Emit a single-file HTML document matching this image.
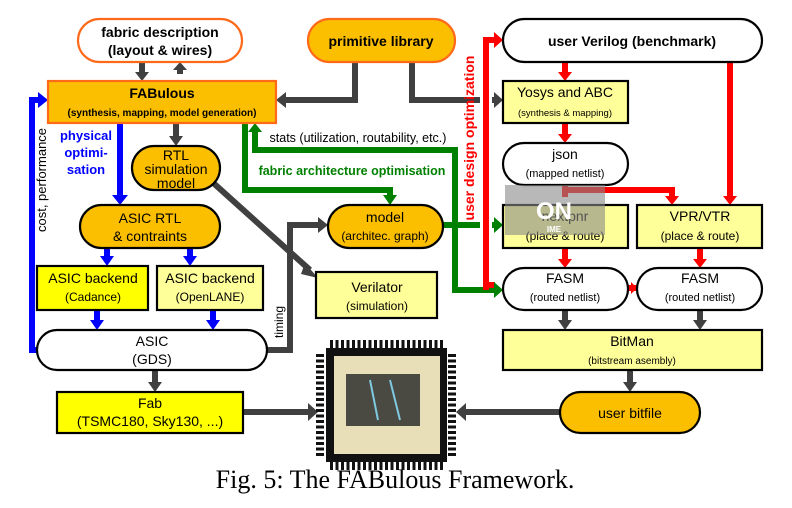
<!DOCTYPE html>
<html><head><meta charset="utf-8"><style>
body{margin:0;background:#fff;}
svg text{font-family:"Liberation Sans",sans-serif;}
</style></head><body>
<svg width="792" height="503" viewBox="0 0 792 503" xmlns="http://www.w3.org/2000/svg">
<g fill="none" stroke-width="6">
<g stroke="#404040">
<path d="M142 62V74M180 74V66"/>
<path d="M355 62V100H284"/>
<path d="M412 62V100H480M492 100H495"/>
<path d="M176 123V138"/>
<path d="M210 180L310 270"/>
<path d="M267 350H290V225H320"/>
<path d="M565 310V322M700 310V322M630 370V384M155 370V384"/>
<path d="M243 412H310M560 412H464"/>
</g>
<g stroke="#0000ff">
<path d="M120 123V197M107 248V258M190 248V258M97 310V322M213 310V322"/>
<path d="M37 350H32V100H40"/>
</g>
<g stroke="#008000">
<path d="M245 123V190H390V197"/>
<path d="M255 132V150H455V290H495"/>
<path d="M443 225H480M492 225H495"/>
</g>
<g stroke="#ff0000">
<path d="M486 290V40H495"/>
<path d="M486 285H495"/>
<path d="M565 62V73M565 123V135M565 185V197M565 190H672V197M730 62V197M565 248V260M700 248V260"/>
<path d="M628 288H637"/>
</g>
</g>
<g fill="#404040">
<path d="M135 72H149L142 81Z"/><path d="M173 70H187L180 62Z"/>
<path d="M286 92V108L276 100Z"/><path d="M494 92V108L503 100Z"/>
<path d="M169 136H183L176 146Z"/><path d="M305 263L318 278L301 274Z"/>
<path d="M318 217V233L328 225Z"/>
<path d="M558 320H572L565 330Z"/><path d="M693 320H707L700 330Z"/>
<path d="M623 382H637L630 392Z"/><path d="M148 382H162L155 392Z"/>
<path d="M308 403V421L318 412Z"/><path d="M466 403V421L456 412Z"/>
</g>
<g fill="#0000ff">
<path d="M112 195H128L120 205Z"/><path d="M100 256H114L107 266Z"/><path d="M183 256H197L190 266Z"/>
<path d="M90 320H104L97 330Z"/><path d="M206 320H220L213 330Z"/><path d="M38 92V108L48 100Z"/>
</g>
<g fill="#008000">
<path d="M383 195H397L390 205Z"/><path d="M248 132H262L255 123Z"/>
<path d="M494 217V233L503 225Z"/><path d="M494 282V298L503 290Z"/>
</g>
<g fill="#ff0000">
<path d="M494 32V48L503 40Z"/>
<path d="M558 72H572L565 81Z"/><path d="M558 134H572L565 143Z"/><path d="M665 196H679L672 205Z"/>
<path d="M723 196H737L730 205Z"/><path d="M558 259H572L565 268Z"/><path d="M693 259H707L700 268Z"/>
<path d="M631 282L637 288L631 294Z"/>
</g>
<g stroke-width="2.2">
<rect x="78" y="19" width="164" height="43" rx="21.5" fill="#fff" stroke="#ff6a1a"/>
<rect x="308" y="19" width="147" height="43" rx="21.5" fill="#fcbf00" stroke="#ff6a1a"/>
<rect x="503" y="19" width="259" height="43" rx="21.5" fill="#fff" stroke="#000"/>
<rect x="48" y="81" width="228" height="42" fill="#fcbf00" stroke="#ff6a1a"/>
<rect x="503" y="81" width="125" height="42" fill="#ffff99" stroke="#000"/>
<rect x="503" y="143" width="125" height="42" rx="21" fill="#fff" stroke="#000"/>
<rect x="132" y="146" width="88" height="44" rx="22" fill="#fcbf00" stroke="#000"/>
<rect x="80" y="205" width="140" height="43" rx="21.5" fill="#fcbf00" stroke="#000"/>
<rect x="328" y="205" width="115" height="43" rx="21.5" fill="#fcbf00" stroke="#000"/>
<rect x="503" y="205" width="125" height="43" fill="#ffff99" stroke="#000"/>
<rect x="637" y="205" width="125" height="43" fill="#ffff99" stroke="#000"/>
<rect x="37" y="266" width="111" height="44" fill="#ffff00" stroke="#000"/>
<rect x="157" y="266" width="106" height="44" fill="#ffff99" stroke="#000"/>
<rect x="316" y="272" width="121" height="46" fill="#ffff99" stroke="#000"/>
<rect x="503" y="268" width="125" height="42" rx="21" fill="#fff" stroke="#000"/>
<rect x="637" y="268" width="125" height="42" rx="21" fill="#fff" stroke="#000"/>
<rect x="37" y="330" width="230" height="40" rx="20" fill="#fff" stroke="#000"/>
<rect x="503" y="330" width="259" height="40" fill="#ffff99" stroke="#000"/>
<rect x="57" y="392" width="186" height="41" fill="#ffff00" stroke="#000"/>
<rect x="560" y="392" width="140" height="41" rx="20.5" fill="#fcbf00" stroke="#000"/>
</g>
<g>
<rect x="326" y="348" width="121" height="114" fill="#111"/>
<g stroke="#111" stroke-dasharray="3 2.5">
<path d="M330 344H444M330 466H444" stroke-width="8"/>
<path d="M320 354V456M452 354V456" stroke-width="8"/>
</g>
<rect x="334" y="356" width="106" height="98" fill="#e8dfb8"/>
<rect x="346" y="374" width="74" height="52" fill="#4a4a42"/>
<path d="M370 380L378 420M390 380L400 420" stroke="#7fc9e0" stroke-width="2"/>
</g>
<g font-weight="bold" fill="#000" text-anchor="middle">
<text x="160" y="37" font-size="14">fabric description</text>
<text x="160" y="55" font-size="14">(layout &amp; wires)</text>
<text x="381" y="46" font-size="14">primitive library</text>
<text x="632" y="46" font-size="14">user Verilog (benchmark)</text>
<text x="162" y="98" font-size="14">FABulous</text>
<text x="162" y="116" font-size="10">(synthesis, mapping, model generation)</text>
<text x="86" y="140" font-size="13" fill="#0000ff">physical</text>
<text x="86" y="157" font-size="13" fill="#0000ff">optimi-</text>
<text x="86" y="174" font-size="13" fill="#0000ff">sation</text>
<text x="352" y="175" font-size="12.5" fill="#008000">fabric architecture optimisation</text>
<text transform="translate(474 138) rotate(-90)" font-size="14" fill="#ff0000">user design optimization</text>
</g>
<g fill="#000" text-anchor="middle" font-size="14">
<text x="176" y="160">RTL</text><text x="176" y="174">simulation</text><text x="176" y="188">model</text>
<text x="150" y="223">ASIC RTL</text><text x="150" y="241">&amp; contraints</text>
<text x="385" y="222">model</text><text x="385" y="240" font-size="12">(architec. graph)</text>
<text x="565" y="97">Yosys and ABC</text><text x="565" y="116" font-size="9.5">(synthesis &amp; mapping)</text>
<text x="565" y="159">json</text><text x="565" y="177" font-size="11">(mapped netlist)</text>
<text x="565" y="221">nextpnr</text><text x="565" y="240" font-size="12">(place &amp; route)</text>
<text x="700" y="221">VPR/VTR</text><text x="700" y="240" font-size="12">(place &amp; route)</text>
<text x="93" y="283">ASIC backend</text><text x="93" y="301" font-size="12">(Cadance)</text>
<text x="210" y="283">ASIC backend</text><text x="210" y="301" font-size="12">(OpenLANE)</text>
<text x="377" y="292">Verilator</text><text x="377" y="310" font-size="12">(simulation)</text>
<text x="565" y="283">FASM</text><text x="565" y="301" font-size="11">(routed netlist)</text>
<text x="700" y="283">FASM</text><text x="700" y="301" font-size="11">(routed netlist)</text>
<text x="152" y="346">ASIC</text><text x="152" y="364">(GDS)</text>
<text x="632" y="346">BitMan</text><text x="632" y="364" font-size="10">(bitstream asembly)</text>
<text x="150" y="408">Fab</text><text x="150" y="426">(TSMC180, Sky130, ...)</text>
<text x="630" y="418">user bitfile</text>
<text x="358" y="142" font-size="12.5">stats (utilization, routability, etc.)</text>
<text transform="translate(46 180) rotate(-90)" font-size="13">cost, performance</text>
<text transform="translate(283 322) rotate(-90)" font-size="12">timing</text>
</g>
<text x="395" y="488" text-anchor="middle" style="font-family:'Liberation Serif',serif;font-size:26px">Fig. 5: The FABulous Framework.</text>
<rect x="505" y="185" width="100" height="50" fill="#888" opacity="0.6"/>
<text x="554" y="219" text-anchor="middle" font-weight="bold" font-size="24" fill="#fff">ON</text>
<text x="554" y="232" text-anchor="middle" font-weight="bold" font-size="8" fill="#fff">IME</text>
</svg>
</body></html>
